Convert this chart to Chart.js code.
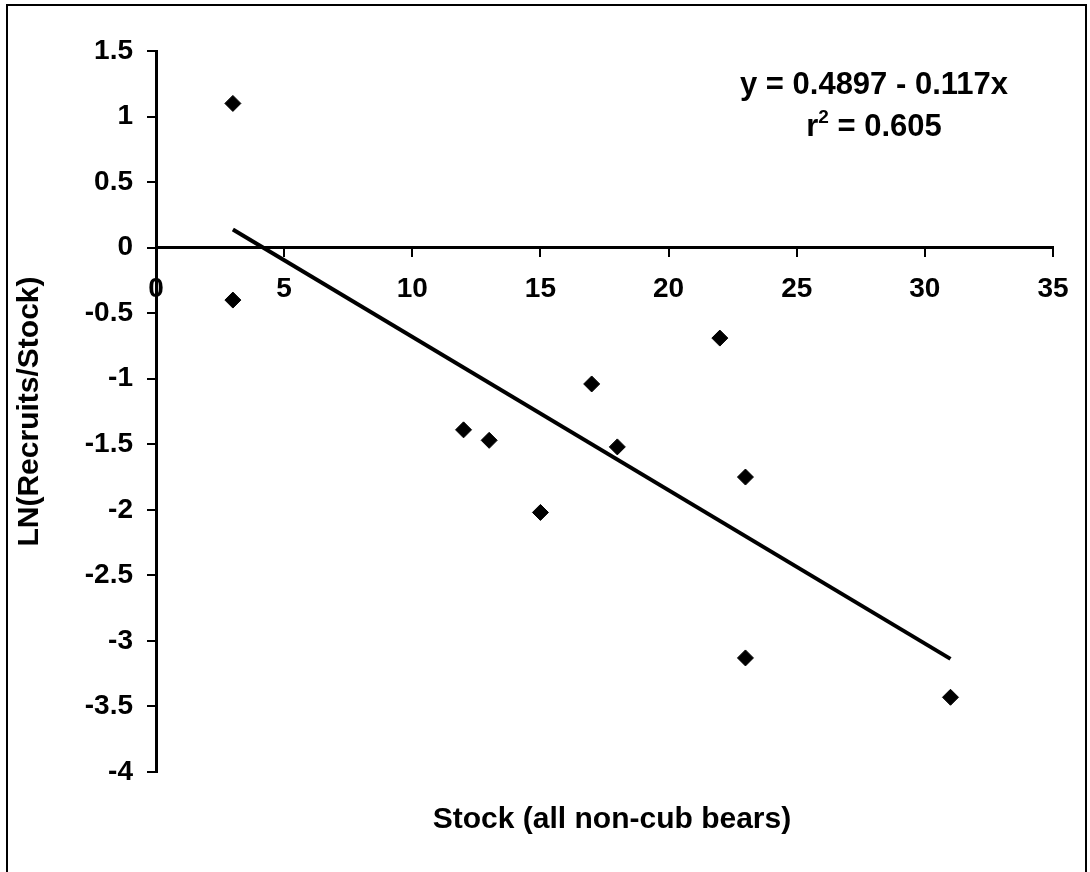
<!DOCTYPE html>
<html>
<head>
<meta charset="utf-8">
<script src="https://cdn.jsdelivr.net/npm/chart.js@4.4.1/dist/chart.umd.min.js"></script>
<style>
  html, body { margin: 0; padding: 0; background: #fff; }
  #wrap { position: relative; width: 1090px; height: 872px; overflow: hidden; }
  #frame { position: absolute; left: 6px; top: 4px; width: 1077px; height: 900px; border: 2px solid #000; }
  canvas { position: absolute; left: 0; top: 0; }
  .txt { position: absolute; font-family: "Liberation Sans", Arial, sans-serif; font-weight: bold; color: #000; white-space: nowrap; }
  #eqn { left: 674px; top: 63px; width: 400px; text-align: center; font-size: 31px; line-height: 42px; }
  #eqn sup { font-size: 19px; line-height: 0; position: relative; top: -2px; vertical-align: super; }
  #xtitle { left: 312px; top: 800px; width: 600px; text-align: center; font-size: 30px; line-height: 36px; }
</style>
</head>
<body>
<div id="wrap">
  <div id="frame"></div>
  <canvas id="grafico" width="1090" height="872"></canvas>
  <div class="txt" id="eqn">y = 0.4897 - 0.117x<br>r<sup>2</sup> = 0.605</div>
  <div class="txt" id="xtitle">Stock (all non-cub bears)</div>
</div>
<script>
"use strict";

// stock (non-cub bears) and LN(recruits/stock)
const stock = [3, 3, 12, 13, 15, 17, 18, 22, 23, 23, 31];
const lnRatio = [1.10, -0.40, -1.39, -1.47, -2.02, -1.04, -1.52, -0.69, -1.75, -3.13, -3.43];

// fitted line y = a + b*x
const intercept = 0.4897;
const slope = -0.117;

const xTicks = [0, 5, 10, 15, 20, 25, 30, 35];
const yTicks = [1.5, 1, 0.5, 0, -0.5, -1, -1.5, -2, -2.5, -3, -3.5, -4];

const puntos = stock.map((x, i) => ({ x: x, y: lnRatio[i] }));
const xMin = Math.min(...stock);
const xMax = Math.max(...stock);
const recta = [xMin, xMax].map(x => ({ x: x, y: intercept + slope * x }));

const fuente = "'Liberation Sans', Arial, sans-serif";

new Chart(document.getElementById("grafico").getContext("2d"), {
  type: "scatter",
  data: {
    datasets: [
      {
        label: "LN(Recruits/Stock)",
        data: puntos,
        pointStyle: "rectRot",
        pointRadius: 8,
        backgroundColor: "#000",
        borderColor: "#000",
        borderWidth: 1
      },
      {
        label: "Ajuste",
        type: "line",
        data: recta,
        showLine: true,
        pointRadius: 0,
        borderColor: "#000",
        borderWidth: 4,
        fill: false
      }
    ]
  },
  options: {
    responsive: false,
    animation: false,
    layout: {
      padding: { left: 6, top: 51, right: 37, bottom: 100 }
    },
    plugins: {
      legend: { display: false },
      tooltip: { enabled: false }
    },
    scales: {
      x: {
        type: "linear",
        position: { y: 0 },
        min: xTicks[0],
        max: xTicks[xTicks.length - 1],
        afterBuildTicks: s => { s.ticks = xTicks.map(v => ({ value: v })); },
        border: { color: "#000", width: 3 },
        grid: { drawOnChartArea: false, drawTicks: true, tickLength: 8, color: "#000", lineWidth: 2 },
        ticks: {
          color: "#000",
          padding: 17,
          maxRotation: 0,
          font: { family: fuente, size: 28, weight: "bold" },
          callback: v => String(v)
        }
      },
      y: {
        type: "linear",
        position: "left",
        min: yTicks[yTicks.length - 1],
        max: yTicks[0],
        afterBuildTicks: s => { s.ticks = yTicks.map(v => ({ value: v })); },
        afterFit: s => { s.width = 150; },
        border: { color: "#000", width: 3 },
        grid: { drawOnChartArea: false, drawTicks: true, tickLength: 9, color: "#000", lineWidth: 2 },
        ticks: {
          color: "#000",
          padding: 14,
          font: { family: fuente, size: 28, weight: "bold" },
          callback: v => String(v)
        },
        title: {
          display: true,
          text: "LN(Recruits/Stock)",
          color: "#000",
          padding: { top: 6, bottom: 0 },
          font: { family: fuente, size: 30, weight: "bold" }
        }
      }
    }
  }
});
</script>
</body>
</html>
